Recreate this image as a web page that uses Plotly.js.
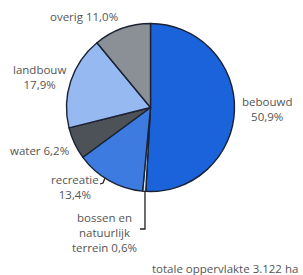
<!DOCTYPE html>
<html><head><meta charset="utf-8">
<script src="https://cdn.plot.ly/plotly-3.0.1.min.js"></script>
<style>html,body{margin:0;padding:0;background:#fff}#c{width:303px;height:275px}</style>
</head><body><div id="c"></div>
<script>
const categories = ["bebouwd", "bossen en natuurlijk terrein", "recreatie", "water", "landbouw", "overig"];
const values = [50.9, 0.6, 13.4, 6.2, 17.9, 11.0];
const labelTexts = ["bebouwd<br>50,9%", "bossen en<br>natuurlijk<br>terrein 0,6%", "recreatie<br>13,4%", "water 6,2%", "landbouw<br>17,9%", "overig 11,0%"];
const colors = ["#1b63da", "#dce7f4", "#3d7be1", "#4c5257", "#96b9f1", "#8a9096"];
const footnote = "totale oppervlakte 3.122 ha";

const W = 303, H = 275;
const px = x => x / W, py = y => 1 - y / H;
const labelPos = [[267,109],[104,232],[75,187],[39,150],[40,77],[84,17]];

const annotations = labelTexts.map((t, i) => ({
  text: t, xref: 'paper', yref: 'paper', x: px(labelPos[i][0]), y: py(labelPos[i][1]),
  xanchor: 'center', yanchor: 'middle', showarrow: false, align: 'center',
  font: {family: 'Open Sans', size: 11.5, color: '#555'}
}));
annotations.push({text: footnote, xref: 'paper', yref: 'paper', x: px(225), y: py(268),
  xanchor: 'center', yanchor: 'middle', showarrow: false,
  font: {family: 'Open Sans', size: 11.5, color: '#555'}});

const pathOf = pts => pts.map((p, i) => (i ? 'L' : 'M') + px(p[0]).toFixed(4) + ',' + py(p[1]).toFixed(4)).join(' ');
const shapes = [
  {type: 'path', xref: 'paper', yref: 'paper', path: pathOf([[145,191],[145,229],[140,229]]), line: {color: '#222', width: 1.3}},
  {type: 'path', xref: 'paper', yref: 'paper', path: pathOf([[100,184],[103,183],[105,178]]), line: {color: '#222', width: 1.3}}
];

Plotly.newPlot('c', [{
  type: 'pie', labels: categories, values: values, sort: false, direction: 'clockwise', rotation: 0,
  textinfo: 'none', hoverinfo: 'none',
  marker: {colors: colors, line: {color: '#1a2233', width: 1.4}},
  domain: {x: [px(66.5), px(234.5)], y: [py(191.5), py(23.5)]}
}], {
  width: W, height: H, margin: {l: 0, r: 0, t: 0, b: 0}, showlegend: false,
  paper_bgcolor: '#fff', annotations: annotations, shapes: shapes
}, {staticPlot: true});
</script></body></html>
